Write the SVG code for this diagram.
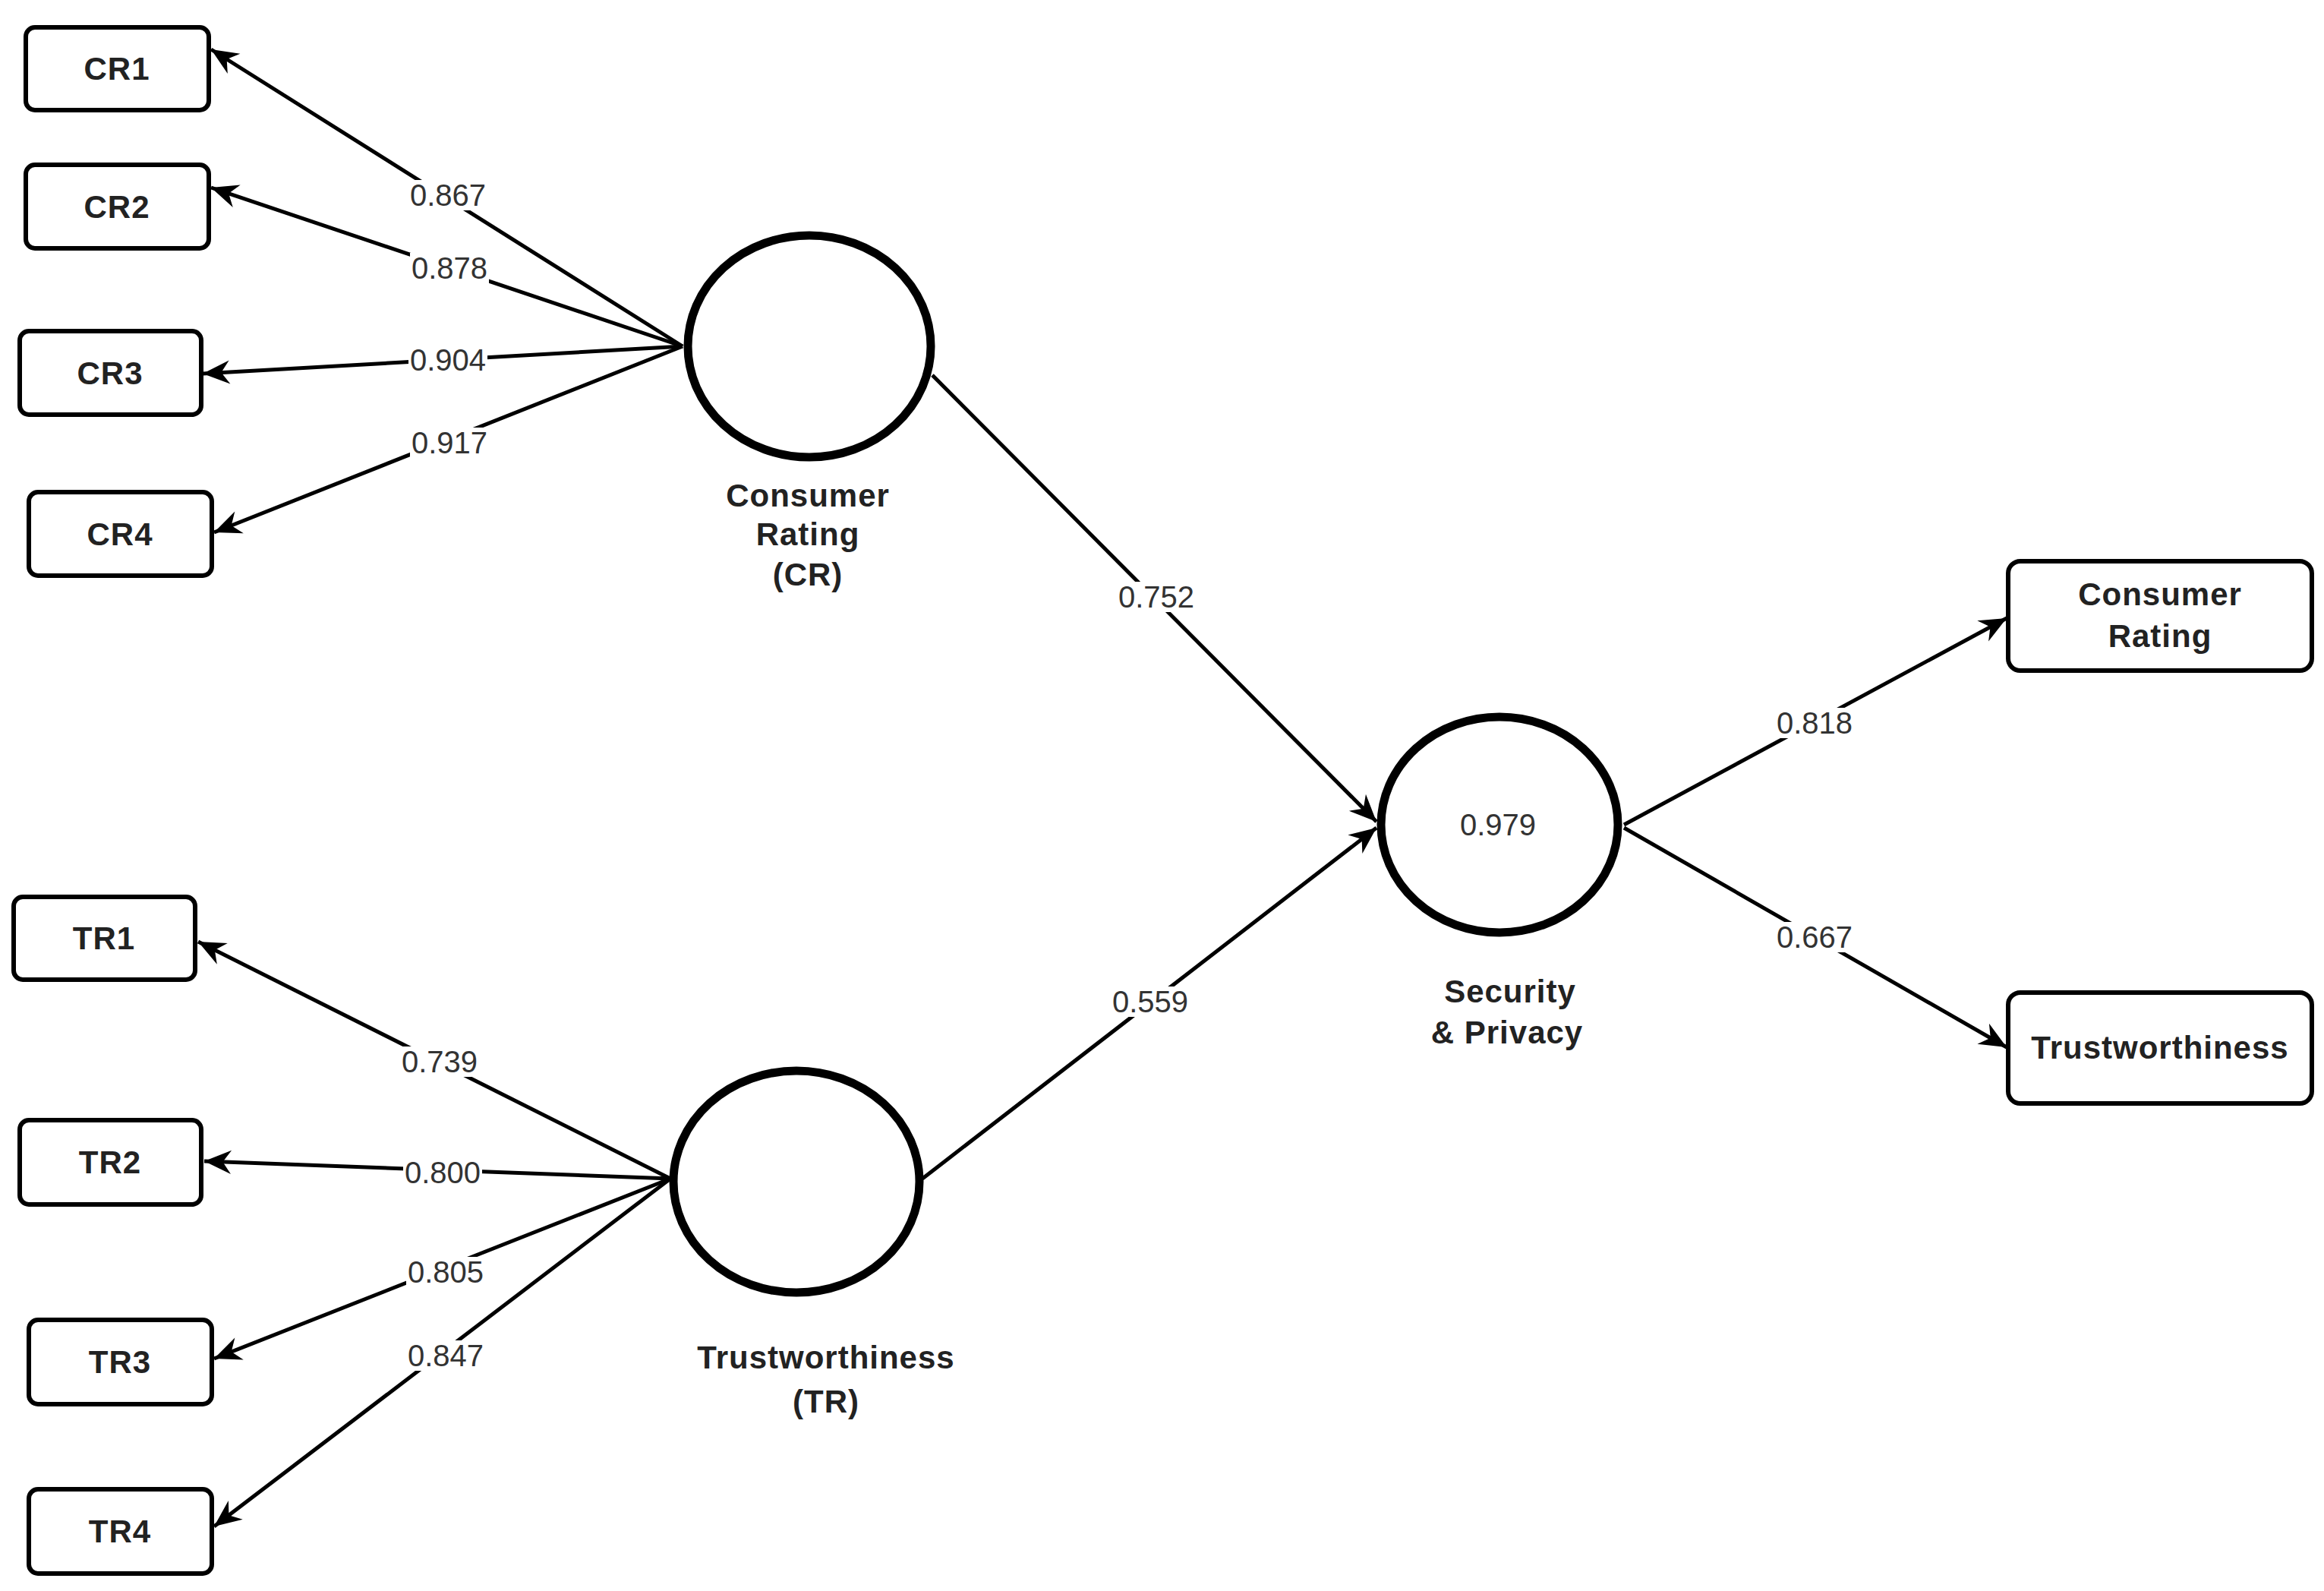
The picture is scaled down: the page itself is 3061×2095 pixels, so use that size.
<svg xmlns="http://www.w3.org/2000/svg" width="3061" height="2095" viewBox="0 0 3061 2095">
<style>
.box{fill:#fff;stroke:#000;stroke-width:6}
.lat{fill:#fff;stroke:#000;stroke-width:11}
.t{font-family:"Liberation Sans",Arial,sans-serif;font-size:42px;font-weight:bold;fill:#222;text-anchor:middle;dominant-baseline:central;letter-spacing:1px}
.e{stroke:#000;stroke-width:5;fill:none;marker-end:url(#ah)}
.l{font-family:"Liberation Sans",Arial,sans-serif;font-size:40px;fill:#333;text-anchor:middle;dominant-baseline:central}
.lb{fill:#fff}
</style>
<defs>
<marker id="ah" markerUnits="userSpaceOnUse" markerWidth="40" markerHeight="40" viewBox="-34 -16 36 32" refX="0" refY="0" orient="auto">
<path d="M0,0 L-32,-14 L-22,0 L-32,14 Z" fill="#000"/>
</marker>
</defs>
<rect width="3061" height="2095" fill="#fff"/>
<g id="connectors">
<line class="e" x1="899" y1="456" x2="278" y2="65"/>
<line class="e" x1="899" y1="456" x2="278" y2="247"/>
<line class="e" x1="899" y1="456" x2="267" y2="492"/>
<line class="e" x1="899" y1="456" x2="282" y2="701"/>
<line class="e" x1="883" y1="1552" x2="261" y2="1240"/>
<line class="e" x1="883" y1="1552" x2="269" y2="1529"/>
<line class="e" x1="883" y1="1552" x2="282" y2="1789"/>
<line class="e" x1="883" y1="1552" x2="282" y2="2010"/>
<line class="e" x1="1228" y1="494" x2="1813" y2="1082"/>
<line class="e" x1="1215" y1="1552" x2="1813" y2="1090"/>
<line class="e" x1="2139" y1="1086" x2="2643" y2="814"/>
<line class="e" x1="2139" y1="1090" x2="2643" y2="1379"/>
<g>
<rect class="lb" x="538" y="237" width="104" height="40"/><text class="l" x="590" y="257">0.867</text>
<rect class="lb" x="540" y="333" width="104" height="40"/><text class="l" x="592" y="353">0.878</text>
<rect class="lb" x="538" y="454" width="104" height="40"/><text class="l" x="590" y="474">0.904</text>
<rect class="lb" x="540" y="563" width="104" height="40"/><text class="l" x="592" y="583">0.917</text>
<rect class="lb" x="527" y="1378" width="104" height="40"/><text class="l" x="579" y="1398">0.739</text>
<rect class="lb" x="531" y="1524" width="104" height="40"/><text class="l" x="583" y="1544">0.800</text>
<rect class="lb" x="535" y="1655" width="104" height="40"/><text class="l" x="587" y="1675">0.805</text>
<rect class="lb" x="535" y="1765" width="104" height="40"/><text class="l" x="587" y="1785">0.847</text>
<rect class="lb" x="1471" y="766" width="104" height="40"/><text class="l" x="1523" y="786">0.752</text>
<rect class="lb" x="1463" y="1299" width="104" height="40"/><text class="l" x="1515" y="1319">0.559</text>
<rect class="lb" x="2338" y="932" width="104" height="40"/><text class="l" x="2390" y="952">0.818</text>
<rect class="lb" x="2338" y="1214" width="104" height="40"/><text class="l" x="2390" y="1234">0.667</text>
</g>
</g>
<g id="CR1"><rect class="box" x="34" y="36" width="241" height="109" rx="12"/><text class="t" x="154" y="90">CR1</text></g>
<g id="CR2"><rect class="box" x="34" y="217" width="241" height="110" rx="12"/><text class="t" x="154" y="272">CR2</text></g>
<g id="CR3"><rect class="box" x="26" y="436" width="239" height="110" rx="12"/><text class="t" x="145" y="491">CR3</text></g>
<g id="CR4"><rect class="box" x="38" y="648" width="241" height="110" rx="12"/><text class="t" x="158" y="703">CR4</text></g>
<g id="TR1"><rect class="box" x="18" y="1181" width="239" height="109" rx="12"/><text class="t" x="137" y="1235">TR1</text></g>
<g id="TR2"><rect class="box" x="26" y="1475" width="239" height="111" rx="12"/><text class="t" x="145" y="1530">TR2</text></g>
<g id="TR3"><rect class="box" x="38" y="1738" width="241" height="111" rx="12"/><text class="t" x="158" y="1793">TR3</text></g>
<g id="TR4"><rect class="box" x="38" y="1961" width="241" height="111" rx="12"/><text class="t" x="158" y="2016">TR4</text></g>
<g id="CR"><ellipse class="lat" cx="1066" cy="456" rx="160" ry="146"/>
<text class="t" x="1064" y="652">Consumer</text><text class="t" x="1064" y="703">Rating</text><text class="t" x="1064" y="756">(CR)</text></g>
<g id="TR"><ellipse class="lat" cx="1049" cy="1556" rx="162" ry="146"/>
<text class="t" x="1088" y="1787">Trustworthiness</text><text class="t" x="1088" y="1845">(TR)</text></g>
<g id="SP"><ellipse class="lat" cx="1975" cy="1086" rx="156" ry="142"/>
<text class="l" x="1973" y="1086">0.979</text>
<text class="t" x="1989" y="1305">Security</text><text class="t" x="1985" y="1359">&amp; Privacy</text></g>
<g id="CRout"><rect class="box" x="2645" y="739" width="400" height="144" rx="16"/><text class="t" x="2845" y="782">Consumer</text><text class="t" x="2845" y="837">Rating</text></g>
<g id="TRout"><rect class="box" x="2645" y="1307" width="400" height="146" rx="16"/><text class="t" x="2845" y="1379">Trustworthiness</text></g>
</svg>
